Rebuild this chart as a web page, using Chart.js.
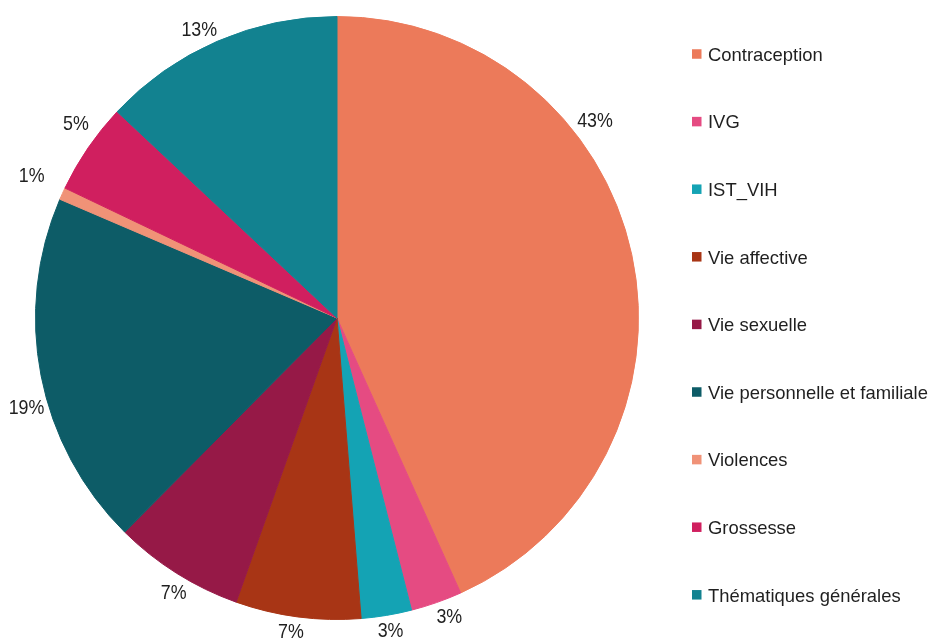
<!DOCTYPE html>
<html>
<head>
<meta charset="utf-8">
<script src="https://cdn.jsdelivr.net/npm/chart.js@4/dist/chart.umd.min.js"></script>
<style>
    html, body { margin: 0; padding: 0; background: #fff; }
    #wrap { width: 930px; height: 642px; position: relative; }
</style>
</head>
<body>
<div id="wrap"><canvas id="pieChart"></canvas></div>
<script>
// Thématiques abordées - parts en %
const categories = ['Contraception', 'IVG', 'IST_VIH', 'Vie affective', 'Vie sexuelle',
    'Vie personnelle et familiale', 'Violences', 'Grossesse', 'Thématiques générales'];
const shares = [43.25, 2.75, 2.7, 6.7, 7.0, 19.0, 0.65, 4.9, 13.0];
const sliceColors = ['#EC7A5A', '#E54B82', '#14A3B4', '#A83515', '#961947',
    '#0D5C67', '#F09277', '#D01F5F', '#128290'];

const textColor = '#1f1f1f';
const fontFamily = '"Liberation Sans", Arial, sans-serif';

// draw text squeezed horizontally (the original font is a bit narrow)
function drawText(ctx, txt, x, y, hs) {
    ctx.save();
    ctx.translate(x, y);
    ctx.scale(hs, 1);
    ctx.fillText(txt, 0, 0);
    ctx.restore();
}

// percentage labels outside each slice
const outsideLabels = {
    id: 'outsideLabels',
    afterDatasetsDraw(chart, args, opts) {
        const ctx = chart.ctx;
        const meta = chart.getDatasetMeta(0);
        const data = chart.data.datasets[0].data;
        const total = data.reduce((a, b) => a + b, 0);
        ctx.save();
        ctx.font = opts.size + 'px ' + fontFamily;
        ctx.fillStyle = textColor;
        ctx.textAlign = 'center';
        ctx.textBaseline = 'alphabetic';
        meta.data.forEach((arc, i) => {
            const p = arc.getProps(['x', 'y', 'startAngle', 'endAngle', 'outerRadius'], true);
            const a = (p.startAngle + p.endAngle) / 2 + ((opts.shift[i] || 0) * Math.PI / 180);
            const txt = Math.round(data[i] / total * 100) + '%';
            const w = ctx.measureText(txt).width * opts.hscale;
            const h = opts.size * 0.72;
            const c = Math.cos(a), s = Math.sin(a);
            const d = p.outerRadius + opts.gap + (opts.extra[i] || 0) + Math.abs(c) * w / 2 + Math.abs(s) * h / 2;
            drawText(ctx, txt, p.x + c * d, p.y + s * d + h / 2, opts.hscale);
        });
        ctx.restore();
    }
};

// legend on the right, square markers
const sideLegend = {
    id: 'sideLegend',
    afterDraw(chart, args, opts) {
        const ctx = chart.ctx;
        ctx.save();
        ctx.font = opts.size + 'px ' + fontFamily;
        ctx.textBaseline = 'alphabetic';
        chart.data.labels.forEach((lab, i) => {
            const y = opts.top + i * opts.step;
            ctx.fillStyle = chart.data.datasets[0].backgroundColor[i];
            ctx.fillRect(opts.x, y - opts.box / 2, opts.box, opts.box);
            ctx.fillStyle = textColor;
            drawText(ctx, lab, opts.x + 16, y + opts.size * 0.36, opts.hscale);
        });
        ctx.restore();
    }
};

new Chart(document.getElementById('pieChart'), {
    type: 'pie',
    data: {
        labels: categories,
        datasets: [{
            data: shares,
            backgroundColor: sliceColors,
            borderColor: sliceColors,
            borderWidth: 1
        }]
    },
    options: {
        responsive: true,
        maintainAspectRatio: false,
        animation: false,
        layout: { padding: { left: 35, right: 291, top: 16, bottom: 22 } },
        plugins: {
            legend: { display: false },
            tooltip: { enabled: false },
            outsideLabels: {
                size: 21, hscale: 0.85, gap: 5,
                shift: [-25.4, -1.4, -0.3, 0.9, -1.3, -4.8, 0.8, 2.5, -2.0],
                extra: [0, 0, 0, 0, -1, -3, 16, 5, 0]
            },
            sideLegend: { x: 692, top: 54, step: 67.6, box: 9.5, size: 19, hscale: 0.97 }
        }
    },
    plugins: [outsideLabels, sideLegend]
});
</script>
</body>
</html>
